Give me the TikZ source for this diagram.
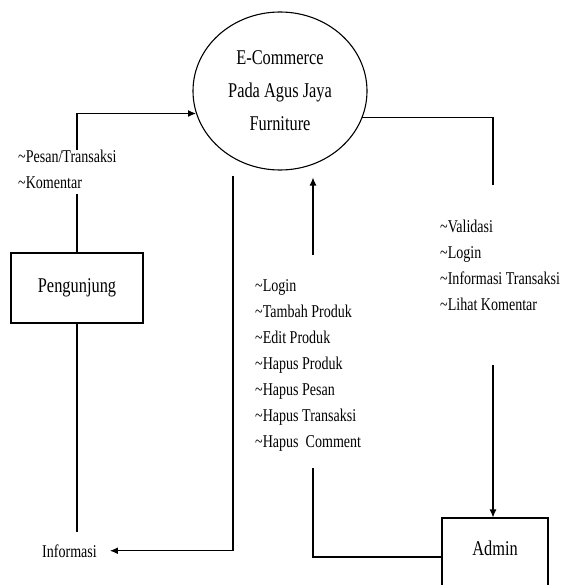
\documentclass[tikz,border=0pt]{standalone}
\usepackage{fontspec}
\setmainfont{Liberation Serif}[FakeStretch=0.78]
\usepackage{tikz}
\usetikzlibrary{positioning,arrows.meta,shapes.geometric}
\newcommand{\tld}{\textasciitilde}

\begin{document}
\begin{tikzpicture}[x=1pt,y=-1pt,
    flow/.style={line width=1.1pt},
    arr/.style={flow, -{Latex[length=8pt,width=7pt]}},
    entity/.style={draw, line width=1.1pt, font=\fontsize{21}{25}\selectfont},
    lbl/.style={align=left, inner sep=0pt, anchor=north west, font=\fontsize{18}{26}\selectfont},
  ]
  \useasboundingbox (0,0) rectangle (564,585);
  \clip (0,0) rectangle (564,585);

  \node[ellipse, draw, line width=1.1pt, minimum width=174pt, minimum height=158pt,
    align=center, font=\fontsize{21}{33}\selectfont] (ecom) at (280,91)
    {E-Commerce\\Pada Agus Jaya\\Furniture};
  \node[entity, minimum width=132pt, minimum height=70pt] (peng) at (77,288) {Pengunjung};
  \node[entity, anchor=base, minimum width=106pt, text height=30pt, text depth=34pt,
    inner sep=7pt] (admin) at (495,555) {Admin};

  \node[lbl] (lpesan) at (18,150) {\tld Pesan/Transaksi\\\tld Komentar};
  \node[lbl] (lvalid) at (440,220)
    {\tld Validasi\\\tld Login\\\tld Informasi Transaksi\\\tld Lihat Komentar};
  \node[lbl] (llogin) at (255,279)
    {\tld Login\\\tld Tambah Produk\\\tld Edit Produk\\\tld Hapus Produk\\\tld Hapus Pesan\\\tld Hapus Transaksi\\\tld Hapus\ \ Comment};
  \node[lbl, anchor=base west] (info) at (42,557) {Informasi};

  \coordinate (up1) at (313,468);
  \coordinate (up2) at (313,255);
  \coordinate (rt1) at (493,185);
  \coordinate (rt2) at (493,365);

  % pengunjung
  \draw[flow] (peng.north) -- ([yshift=-5pt]peng.north |- lpesan.south);
  \draw[arr] (peng.north |- lpesan.north) |- (ecom.195);
  \draw[flow] (peng.south) -- ([yshift=12pt]peng.south |- info.north);
  \draw[arr] ([xshift=-47pt,yshift=-5pt]ecom.south) |- ([xshift=13pt]info.east);

  % admin
  \draw[flow] (ecom.-18) -| (rt1);
  \draw[arr] (rt2) -- (rt2 |- admin.north);
  \draw[flow] (admin.west) -| (up1);
  \draw[arr] (up2) -- ([yshift=-7pt]up2 |- ecom.south);
\end{tikzpicture}
\end{document}
